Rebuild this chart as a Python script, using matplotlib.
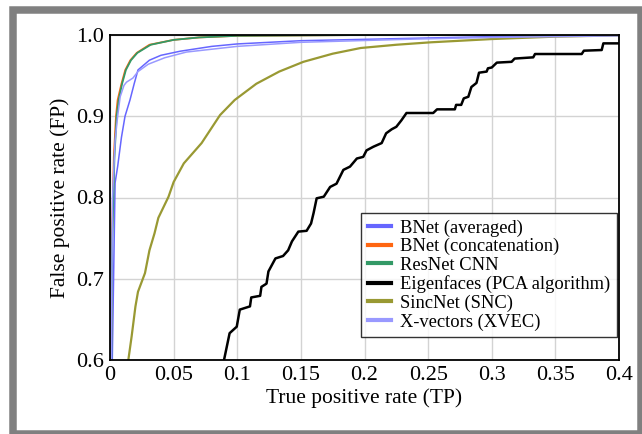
import matplotlib.pyplot as plt
from matplotlib.patches import Rectangle

plt.rcParams['font.family'] = ['Liberation Serif', 'DejaVu Serif']

# BNet (concatenation)
bnet_cat_x = [0.0008, 0.0015, 0.003, 0.0047, 0.006, 0.009, 0.012, 0.016, 0.021, 0.031, 0.05, 0.07, 0.1, 0.2, 0.4]
bnet_cat_y = [0.6, 0.75, 0.85, 0.9, 0.92, 0.94, 0.957, 0.969, 0.978, 0.988, 0.994, 0.997, 0.999, 1.0, 1.0]
# ResNet CNN
resnet_x = [0.001, 0.0018, 0.0035, 0.0052, 0.0068, 0.0095, 0.0125, 0.0165, 0.0215, 0.032, 0.05, 0.07, 0.1, 0.2, 0.4]
resnet_y = [0.6, 0.75, 0.85, 0.9, 0.92, 0.94, 0.957, 0.969, 0.978, 0.988, 0.994, 0.997, 0.999, 1.0, 1.0]
# BNet (averaged)
bnet_avg_x = [0.0018, 0.004, 0.006, 0.009, 0.0118, 0.0157, 0.019, 0.022, 0.031, 0.04, 0.055, 0.08, 0.1, 0.15, 0.24, 0.3, 0.4]
bnet_avg_y = [0.6, 0.818, 0.838, 0.874, 0.9, 0.92, 0.94, 0.957, 0.969, 0.975, 0.98, 0.986, 0.989, 0.993, 0.996, 0.998, 1.0]
# X-vectors (XVEC)
xvec_x = [0.001, 0.002, 0.004, 0.006, 0.008, 0.011, 0.013, 0.018, 0.022, 0.03, 0.043, 0.06, 0.1, 0.15, 0.24, 0.3, 0.4]
xvec_y = [0.6, 0.8, 0.87, 0.9, 0.924, 0.938, 0.942, 0.947, 0.955, 0.964, 0.972, 0.979, 0.986, 0.991, 0.995, 0.997, 0.999]
# SincNet (SNC)
sinc_x = [0.0144, 0.017, 0.020, 0.022, 0.0275, 0.031, 0.035, 0.038, 0.046, 0.050, 0.058, 0.072, 0.0865, 0.098,
          0.115, 0.133, 0.152, 0.175, 0.197, 0.225, 0.252, 0.3, 0.35, 0.4]
sinc_y = [0.6, 0.629, 0.666, 0.684, 0.707, 0.735, 0.756, 0.775, 0.801, 0.819, 0.842, 0.867, 0.9015, 0.92,
          0.94, 0.955, 0.967, 0.977, 0.984, 0.988, 0.991, 0.995, 0.998, 0.9995]
# Eigenfaces (PCA algorithm)
eigen_x = [0.0896, 0.094, 0.0996, 0.102, 0.110, 0.111, 0.118, 0.119, 0.123, 0.1245, 0.130, 0.136, 0.140, 0.143,
           0.148, 0.1545, 0.158, 0.160, 0.1624, 0.168, 0.173, 0.178, 0.1834, 0.1886, 0.194, 0.199, 0.2016,
           0.207, 0.2135, 0.217, 0.2214, 0.225, 0.229, 0.233, 0.254, 0.257, 0.271, 0.272, 0.276, 0.278, 0.2816,
           0.284, 0.288, 0.290, 0.296, 0.297, 0.300, 0.304, 0.3156, 0.318, 0.3326, 0.334, 0.3707, 0.3724,
           0.3864, 0.3877, 0.4]
eigen_y = [0.6, 0.633, 0.641, 0.662, 0.666, 0.677, 0.679, 0.690, 0.694, 0.709, 0.725, 0.728, 0.735, 0.746,
           0.758, 0.759, 0.768, 0.781, 0.799, 0.801, 0.813, 0.817, 0.834, 0.838, 0.848, 0.850, 0.858,
           0.8625, 0.867, 0.879, 0.884, 0.887, 0.895, 0.904, 0.904, 0.9085, 0.9085, 0.914, 0.914, 0.922, 0.924,
           0.936, 0.941, 0.9536, 0.955, 0.959, 0.960, 0.966, 0.967, 0.971, 0.9725, 0.9766, 0.9766, 0.9807,
           0.9815, 0.9897, 0.9897]

x_ticks = [0, 0.05, 0.1, 0.15, 0.2, 0.25, 0.3, 0.35, 0.4]
x_tick_labels = ['0', '0.05', '0.1', '0.15', '0.2', '0.25', '0.3', '0.35', '0.4']
y_ticks = [0.6, 0.7, 0.8, 0.9, 1.0]
y_tick_labels = ['0.6', '0.7', '0.8', '0.9', '1.0']

fig = plt.figure(figsize=(6.42, 4.34), dpi=100)
ax = fig.add_axes([110 / 642, 74 / 434, 509 / 642, 325 / 434])

ax.plot(bnet_avg_x, bnet_avg_y, color='#6666ff', lw=1.1, label='BNet (averaged)')
ax.plot(bnet_cat_x, bnet_cat_y, color='#ff6611', lw=1.3, label='BNet (concatenation)')
ax.plot(resnet_x, resnet_y, color='#339966', lw=1.3, label='ResNet CNN')
ax.plot(eigen_x, eigen_y, color='black', lw=1.8, solid_joinstyle='round', label='Eigenfaces (PCA algorithm)')
ax.plot(sinc_x, sinc_y, color='#999933', lw=1.6, solid_joinstyle='round', label='SincNet (SNC)')
ax.plot(xvec_x, xvec_y, color='#9999ff', lw=1.1, label='X-vectors (XVEC)')

ax.set_xlim(0, 0.4)
ax.set_ylim(0.6, 1.0)
ax.set_xticks(x_ticks, x_tick_labels)
ax.set_yticks(y_ticks, y_tick_labels)
ax.tick_params(labelsize=16, length=0)
ax.tick_params(axis='x', pad=4)
ax.tick_params(axis='y', pad=4)
ax.grid(True, color='#d3d3d3', lw=1.0)
ax.set_axisbelow(True)
for s in ax.spines.values():
    s.set_linewidth(1.3)

ax.set_xlabel('True positive rate (TP)', fontsize=15.5, labelpad=3)
ax.set_ylabel('False positive rate (FP)', fontsize=15.5, labelpad=5)

leg = ax.legend(loc='lower right', bbox_to_anchor=(0.996, 0.07), fontsize=13.3, frameon=True,
                fancybox=False, edgecolor='black', handlelength=1.25, handletextpad=0.5,
                labelspacing=0.08, borderpad=0.35, borderaxespad=0)
leg.get_frame().set_linewidth(1.0)
for h in leg.get_lines():
    h.set_linewidth(3)

# grey outer frame
fig.patches.append(Rectangle((12.8 / 642, 0.2 / 434), 628 / 642, 424.3 / 434, transform=fig.transFigure,
                             fill=False, edgecolor='#808080', lw=5.4))

fig.savefig('out.png', dpi=100)
